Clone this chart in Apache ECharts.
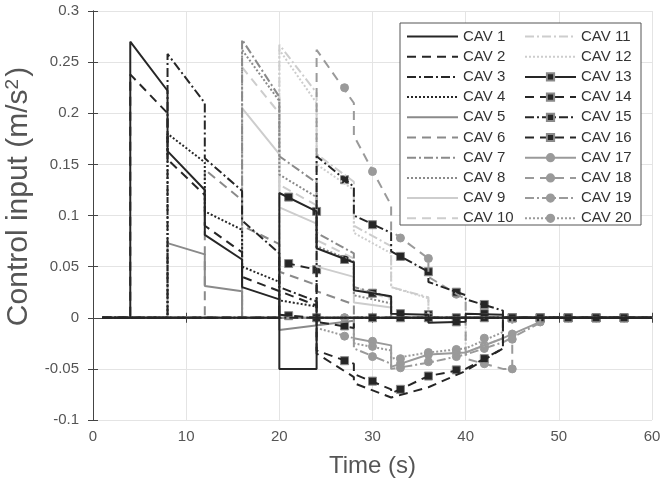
<!DOCTYPE html>
<html>
<head>
<meta charset="utf-8">
<script src="https://cdn.jsdelivr.net/npm/echarts@6/dist/echarts.min.js"></script>
<style>
  html, body { margin: 0; padding: 0; background: #fff; }
  #container { width: 662px; height: 478px; }
</style>
</head>
<body>
<div id="container"></div>
<script>
// breakpoints [time, control] (replanning every 4 s)
var cav1 = [[1,0],[4,0],[4,0.27],[8,0.222],[8,0.163],[12,0.125],[12,0.081],[16,0.057],[16,0.03],[20,0.018],[20,-0.05],[24,-0.05],[24,0],[60,0]];
var cav2 = [[1,0],[4,0],[4,0.238],[8,0.2],[8,0.155],[12,0.12],[12,0.09],[16,0.064],[16,0.04],[24,0.012],[24,-0.035],[28,-0.058],[28,-0.064],[32,-0.078],[36,-0.068],[40,-0.052],[44,-0.03],[44,0],[60,0]];
var cav3 = [[1,0],[8,0],[8,0.258],[12,0.21],[12,0.156],[16,0.124],[16,0.095],[20,0.063],[20,0.03],[24,0.016],[24,0],[60,0]];
var cav4 = [[1,0],[8,0],[8,0.18],[12,0.152],[12,0.104],[16,0.086],[16,0.05],[20,0.035],[20,0.017],[24,0.011],[24,0],[60,0]];
var cav5 = [[1,0],[8,0],[8,0.073],[12,0.062],[12,0.031],[16,0.026],[16,0],[20,0],[20,-0.012],[28,-0.003],[28,0],[60,0]];
var cav6 = [[1,0],[12,0],[12,0.145],[16,0.115],[16,0.09],[20,0.072],[20,0.045],[24,0.032],[24,0.026],[28,0.013],[28,0],[60,0]];
var cav7 = [[1,0],[16,0],[16,0.272],[20,0.216],[20,0.158],[24,0.132],[24,0.083],[28,0.063],[28,0.03],[32,0.02],[32,0],[60,0]];
var cav8 = [[1,0],[16,0],[16,0.262],[20,0.212],[20,0.14],[24,0.118],[24,0.07],[28,0.055],[28,0.022],[32,0.014],[32,0],[60,0]];
var cav9 = [[1,0],[16,0],[16,0.205],[20,0.16],[20,0.108],[24,0.092],[24,0.05],[28,0.04],[28,0.015],[32,0.01],[32,0],[60,0]];
var cav10 = [[1,0],[16,0],[16,0.245],[20,0.2],[20,0.13],[24,0.11],[24,0.076],[28,0.058],[28,0.03],[32,0.018],[32,0],[60,0]];
var cav11 = [[1,0],[20,0],[20,0.267],[24,0.22],[24,0.16],[28,0.133],[28,0.09],[32,0.07],[32,0.03],[36,0.02],[36,0],[60,0]];
var cav12 = [[1,0],[20,0],[20,0.262],[24,0.21],[24,0.15],[28,0.125],[28,0.083],[32,0.063],[32,0.03],[36,0.019],[36,0],[40,0],[40,-0.034],[44,-0.02],[44,0],[60,0]];
var cav13 = [[1,0],[20,0],[20,0.122],[24,0.104],[24,0.068],[28,0.054],[28,0.027],[32,0.021],[32,0.004],[36,0.003],[36,-0.005],[40,-0.004],[40,0.004],[44,0.003],[44,0],[60,0]];
var cav14 = [[1,0],[20,0],[20,0.055],[24,0.047],[24,-0.032],[28,-0.045],[28,-0.055],[32,-0.07],[32,-0.074],[36,-0.057],[40,-0.05],[44,-0.03],[44,0],[60,0]];
var cav15 = [[1,0],[24,0],[24,0.158],[28,0.128],[28,0.1],[32,0.083],[32,0.065],[36,0.045],[36,0.035],[40,0.022],[40,0.018],[44,0.007],[44,0],[60,0]];
var cav16 = [[1,0],[20,0],[20,0.003],[24,0],[24,-0.004],[28,-0.01],[28,0],[60,0]];
var cav17 = [[1,0],[28,0],[28,-0.02],[32,-0.027],[32,-0.048],[36,-0.036],[40,-0.034],[44,-0.02],[48,-0.004],[48,0],[60,0]];
var cav18 = [[1,0],[24,0],[24,0.262],[28,0.21],[28,0.178],[32,0.11],[32,0.085],[36,0.058],[36,0.04],[40,0.018],[40,-0.04],[44,-0.05],[45,-0.05],[45,0],[60,0]];
var cav19 = [[1,0],[28,0],[28,-0.03],[32,-0.045],[32,-0.05],[36,-0.044],[40,-0.036],[44,-0.024],[48,-0.005],[48,0],[60,0]];
var cav20 = [[1,0],[24,0],[24,-0.01],[28,-0.02],[28,-0.025],[32,-0.032],[32,-0.04],[36,-0.034],[40,-0.03],[44,-0.014],[44,0],[60,0]];

// marker positions (every 3 s) for CAV 13-20
var mk13 = [[21,0.118],[24,0.104],[27,0.057],[30,0.024],[33,0.004],[36,0.003],[39,-0.004],[42,0.004],[45,0],[48,0],[51,0],[54,0],[57,0]];
var mk14 = [[21,0.053],[24,0.047],[27,-0.042],[30,-0.062],[33,-0.07],[36,-0.057],[39,-0.051],[42,-0.04],[45,0],[48,0],[51,0],[54,0],[57,0]];
var mk15 = [[27,0.135],[30,0.091],[33,0.06],[36,0.045],[39,0.025],[42,0.013],[45,0],[48,0],[51,0],[54,0],[57,0]];
var mk16 = [[21,0.002],[24,0],[27,-0.008],[30,0],[33,0],[36,0],[39,0],[42,0],[45,0],[48,0],[51,0],[54,0],[57,0]];
var mk17 = [[24,0],[27,0],[30,-0.023],[33,-0.045],[36,-0.036],[39,-0.034],[42,-0.027],[45,-0.016],[48,-0.004],[51,0],[54,0],[57,0]];
var mk18 = [[27,0.225],[30,0.143],[33,0.078],[36,0.058],[39,0.023],[42,-0.045],[45,-0.05],[48,0],[51,0],[54,0],[57,0]];
var mk19 = [[24,0],[27,0],[30,-0.038],[33,-0.049],[36,-0.043],[39,-0.038],[42,-0.03],[45,-0.021],[48,-0.004],[51,0],[54,0],[57,0]];
var mk20 = [[27,-0.018],[30,-0.028],[33,-0.04],[36,-0.034],[39,-0.031],[42,-0.02],[45,0],[48,0],[51,0],[54,0],[57,0]];

var names = ['CAV 1','CAV 2','CAV 3','CAV 4','CAV 5','CAV 6','CAV 7','CAV 8','CAV 9','CAV 10',
             'CAV 11','CAV 12','CAV 13','CAV 14','CAV 15','CAV 16','CAV 17','CAV 18','CAV 19','CAV 20'];
var lines = [cav1,cav2,cav3,cav4,cav5,cav6,cav7,cav8,cav9,cav10,cav11,cav12,cav13,cav14,cav15,cav16,cav17,cav18,cav19,cav20];
var marks = [null,null,null,null,null,null,null,null,null,null,null,null,mk13,mk14,mk15,mk16,mk17,mk18,mk19,mk20];

var dark = '#262626', mid = '#8a8a8a', light = '#cdcdcd', dot = '#9a9a9a';
var solid = 'solid', dashed = [9, 6], dashdot = [9, 3, 2, 3], dotted = [2, 2];
var colors = [dark,dark,dark,dark, mid,mid,mid,mid, light,light,light,light, dark,dark,dark,dark, dot,dot,dot,dot];
var dashes = [solid,dashed,dashdot,dotted, solid,dashed,dashdot,dotted, solid,dashed,dashdot,dotted,
              solid,dashed,dashdot,dashed, solid,dashed,dashdot,dotted];

var series = [];
// draw light ones first so dark lines sit on top
var order = [8,9,10,11,4,5,6,7,16,17,18,19,0,1,2,3,12,13,14,15];
order.forEach(function (i) {
    var hasMark = marks[i] != null;
    var sym = hasMark ? (i < 16 ? 'rect' : 'circle') : 'none';
    var border = i < 16 ? '#8a8a8a' : colors[i];
    series.push({
        name: names[i],
        type: 'line',
        data: lines[i],
        symbol: sym,
        symbolSize: 8,
        showSymbol: false,
        animation: false,
        lineStyle: { color: colors[i], width: 2, type: dashes[i] },
        itemStyle: { color: colors[i], borderColor: border, borderWidth: 1, opacity: hasMark ? 1 : 0 }
    });
    if (hasMark) {
        series.push({
            name: names[i],
            type: 'scatter',
            data: marks[i],
            symbol: sym,
            symbolSize: 8,
            animation: false,
            itemStyle: { color: colors[i], borderColor: border, borderWidth: 1, opacity: 1 }
        });
    }
});

function legendItems(list) {
    return list.map(function (n) {
        var i = names.indexOf(n);
        return marks[i] ? { name: n } : { name: n, itemStyle: { opacity: 0 } };
    });
}

var legendText = { fontFamily: 'Liberation Sans', fontSize: 15, color: '#333' };

var option = {
    backgroundColor: '#fff',
    textStyle: { fontFamily: 'Liberation Sans' },
    grid: { left: 93, right: 10, top: 11, bottom: 58, outerBoundsMode: 'none', containLabel: false },
    xAxis: [{
        type: 'value', min: 0, max: 60, interval: 10,
        name: 'Time (s)', nameLocation: 'middle', nameGap: 34,
        nameTextStyle: { fontSize: 24, color: '#555' },
        axisLine: { lineStyle: { color: '#444', width: 1 } },
        axisTick: { inside: true, length: 5, lineStyle: { color: '#444' } },
        axisLabel: { fontSize: 15, color: '#555', margin: 9 },
        splitLine: { lineStyle: { color: '#e4e4e4', width: 1 } }
    }, {
        type: 'value', min: 0, max: 60, interval: 10, position: 'top',
        axisLine: { lineStyle: { color: '#444', width: 1 } },
        axisTick: { inside: true, length: 5, lineStyle: { color: '#444' } },
        axisLabel: { show: false }, splitLine: { show: false }
    }],
    yAxis: [{
        type: 'value', min: -0.1, max: 0.3, interval: 0.05,
        name: 'Control input (m/s{sup|2})', nameLocation: 'middle', nameGap: 40,
        nameTextStyle: {
            fontSize: 30, color: '#555', padding: [0, 0, 0, 38],
            rich: { sup: { fontSize: 19, color: '#555', verticalAlign: 'top', padding: [0, 2, 12, 0] } }
        },
        axisLine: { show: true, lineStyle: { color: '#444', width: 1 } },
        axisTick: { show: true, inside: true, length: 5, lineStyle: { color: '#444' } },
        axisLabel: { fontSize: 15, color: '#555', margin: 14 },
        splitLine: { lineStyle: { color: '#e4e4e4', width: 1 } }
    }, {
        type: 'value', min: -0.1, max: 0.3, interval: 0.05, position: 'right',
        axisLine: { show: true, lineStyle: { color: '#444', width: 1 } },
        axisTick: { show: true, inside: true, length: 5, lineStyle: { color: '#444' } },
        axisLabel: { show: false }, splitLine: { show: false }
    }],
    graphic: [{
        type: 'rect', z: 5, silent: true,
        shape: { x: 400, y: 23, width: 241, height: 202 },
        style: { fill: '#fff', stroke: '#555', lineWidth: 1 }
    }],
    legend: [{
        data: legendItems(names.slice(0, 10)), orient: 'vertical', left: 406, top: 29, padding: 0,
        itemWidth: 51, itemHeight: 9, itemGap: 5.2, z: 10,
        textStyle: legendText
    }, {
        data: legendItems(names.slice(10)), orient: 'vertical', left: 524, top: 29, padding: 0,
        itemWidth: 51, itemHeight: 9, itemGap: 5.2, z: 10,
        textStyle: legendText
    }],
    series: series
};

var myChart = echarts.init(document.getElementById('container'));
myChart.setOption(option);
</script>
</body>
</html>
